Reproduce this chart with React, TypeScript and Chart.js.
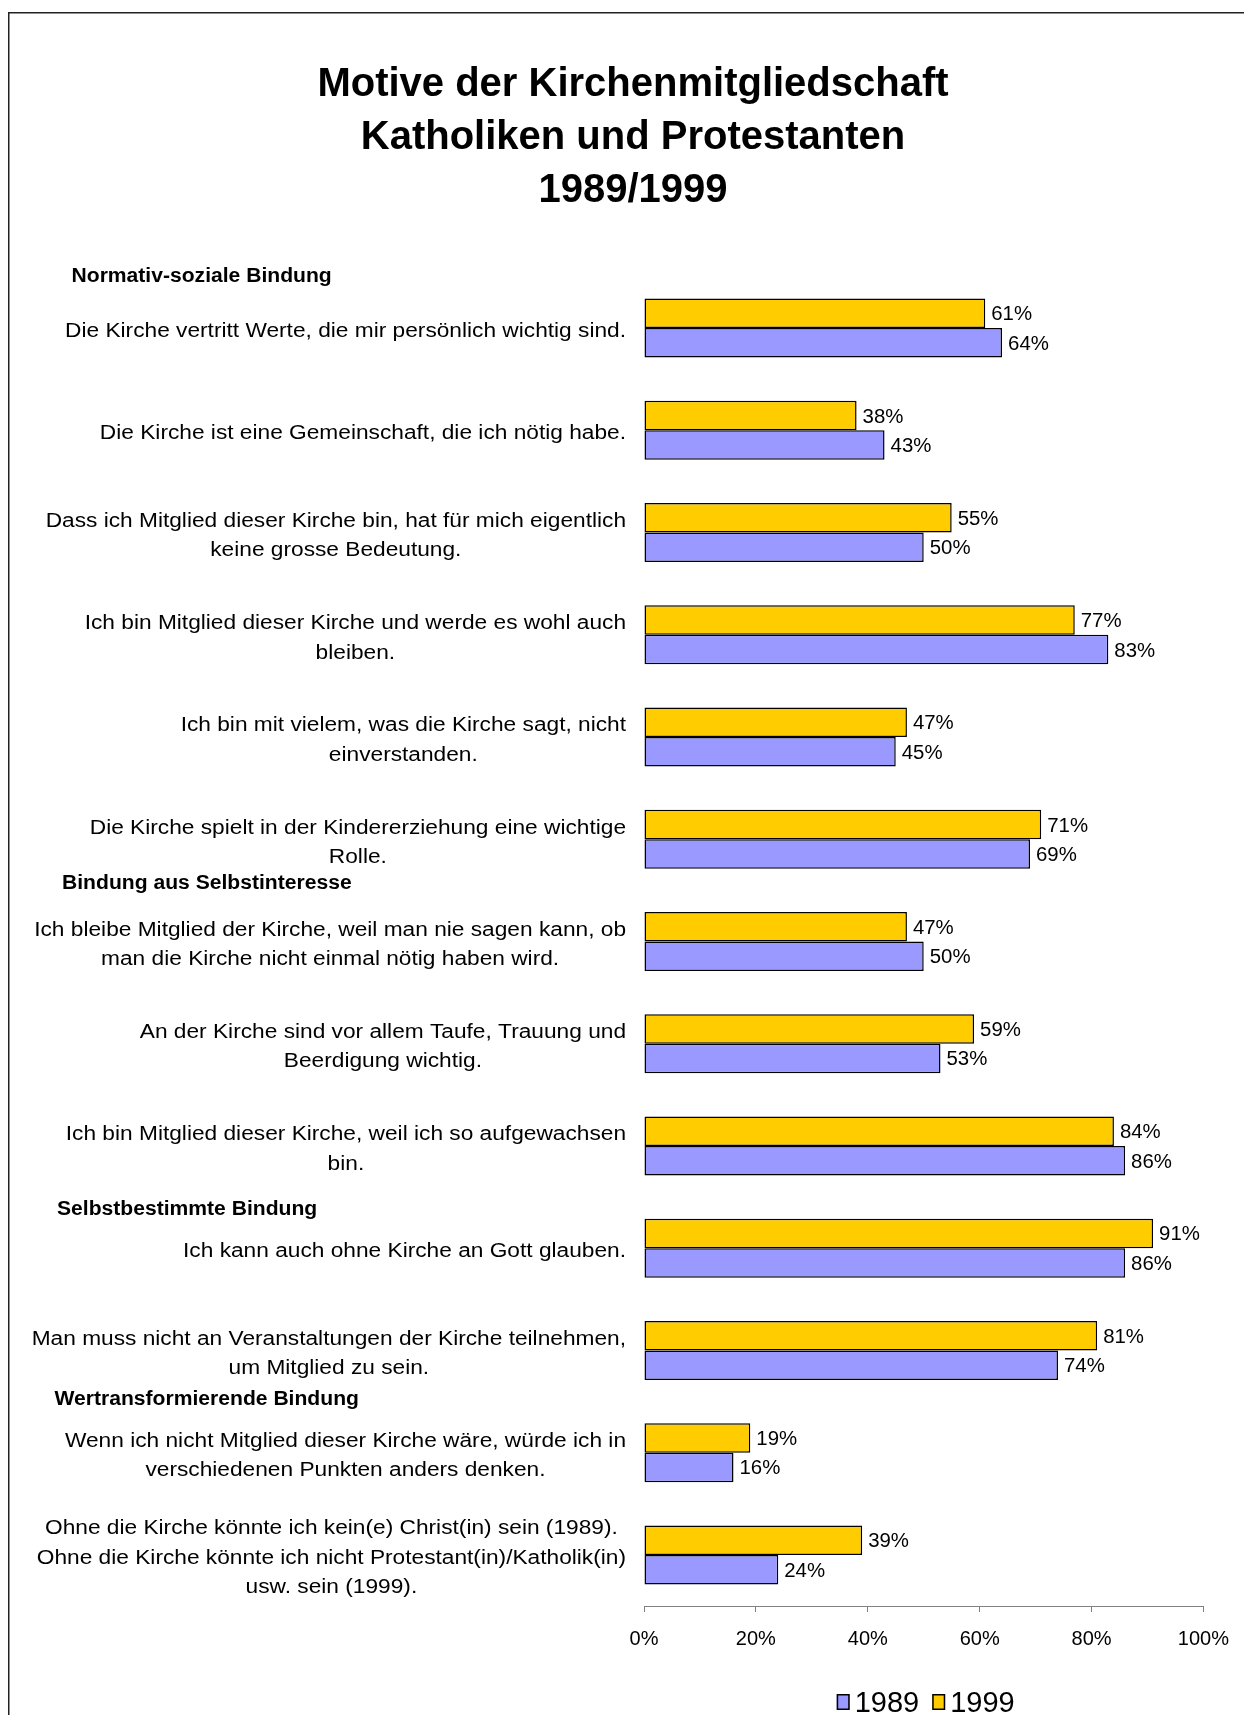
import React, { useEffect, useRef } from "react";
import { Chart, registerables } from "chart.js";

Chart.register(...registerables);

// ---------- data ----------
const titleLines = ["Motive der Kirchenmitgliedschaft", "Katholiken und Protestanten", "1989/1999"];

const categories: string[][] = [
  ["Die Kirche vertritt Werte, die mir persönlich wichtig sind."],
  ["Die Kirche ist eine Gemeinschaft, die ich nötig habe."],
  ["Dass ich Mitglied dieser Kirche bin, hat für mich eigentlich", "keine grosse Bedeutung."],
  ["Ich bin Mitglied dieser Kirche und werde es wohl auch", "bleiben."],
  ["Ich bin mit vielem, was die Kirche sagt, nicht", "einverstanden."],
  ["Die Kirche spielt in der Kindererziehung eine wichtige", "Rolle."],
  ["Ich bleibe Mitglied der Kirche, weil man nie sagen kann, ob", "man die Kirche nicht einmal nötig haben wird."],
  ["An der Kirche sind vor allem Taufe, Trauung und", "Beerdigung wichtig."],
  ["Ich bin Mitglied dieser Kirche, weil ich so aufgewachsen", "bin."],
  ["Ich kann auch ohne Kirche an Gott glauben."],
  ["Man muss nicht an Veranstaltungen der Kirche teilnehmen,", "um Mitglied zu sein."],
  ["Wenn ich nicht Mitglied dieser Kirche wäre, würde ich in", "verschiedenen Punkten anders denken."],
  [
    "Ohne die Kirche könnte ich kein(e) Christ(in) sein (1989).",
    "Ohne die Kirche könnte ich nicht Protestant(in)/Katholik(in)",
    "usw. sein (1999).",
  ],
];

const values1999 = [61, 38, 55, 77, 47, 71, 47, 59, 84, 91, 81, 19, 39];
const values1989 = [64, 43, 50, 83, 45, 69, 50, 53, 86, 86, 74, 16, 24];

const seriesNames = ["1989", "1999"];

const sectionHeaders = [
  "Normativ-soziale Bindung",
  "Bindung aus Selbstinteresse",
  "Selbstbestimmte Bindung",
  "Wertransformierende Bindung",
];
const sectionStarts = [0, 6, 9, 11];

const xTickValues = [0, 20, 40, 60, 80, 100];

// ---------- style / layout ----------
const W = 1236;
const H = 1707;
const FONT = '"Liberation Sans", Arial, Helvetica, sans-serif';
const COLOR_1989 = "#9999FF";
const COLOR_1999 = "#FFCC00";
const AREA_TOP = 269;
const AREA_BOTTOM = 1598;
const TITLE_PAD_TOP = 50.5;
const TITLE_LINE_H = 53;
const LABEL_RIGHT = 618;
const LABEL_LINE_H = 29.5;
const LABEL_SX = 1.135;
const HEADER_SX = 1.055;
const VALUE_SX = 1.02;
const HEADER_X = [63.5, 54, 49, 46.5];
const HEADER_DY = [-2, -8, 11, -3.5];

function stretchText(ctx: CanvasRenderingContext2D, text: string, x: number, y: number, sx: number) {
  ctx.save();
  ctx.translate(x, y);
  ctx.scale(sx, 1);
  ctx.fillText(text, 0, 0);
  ctx.restore();
}

const overlayPlugin = {
  id: "overlay",
  afterDraw(chart: any) {
    const ctx: CanvasRenderingContext2D = chart.ctx;
    const yScale = chart.scales.y;
    const area = chart.chartArea;
    ctx.save();

    // frame
    ctx.strokeStyle = "#222";
    ctx.lineWidth = 1.5;
    ctx.strokeRect(0.75, 4.75, W + 20, H + 20);

    // category labels (block right aligned, lines centred)
    ctx.fillStyle = "#000";
    ctx.font = `20px ${FONT}`;
    ctx.textAlign = "center";
    ctx.textBaseline = "alphabetic";
    categories.forEach((lines, i) => {
      const cy = yScale.getPixelForValue(i);
      const maxW = Math.max(...lines.map((l) => ctx.measureText(l).width)) * LABEL_SX;
      const cx = LABEL_RIGHT - maxW / 2;
      lines.forEach((line, j) => {
        const ly = cy + (j - (lines.length - 1) / 2) * LABEL_LINE_H + 9;
        stretchText(ctx, line, cx, ly, LABEL_SX);
      });
    });

    // section headers
    ctx.font = `bold 20px ${FONT}`;
    ctx.textAlign = "left";
    sectionHeaders.forEach((h, k) => {
      const y = yScale.getPixelForValue(sectionStarts[k] - 0.5) + HEADER_DY[k];
      stretchText(ctx, h, HEADER_X[k], y + 7, HEADER_SX);
    });

    // data labels
    ctx.font = `20px ${FONT}`;
    ctx.textAlign = "left";
    chart.data.datasets.forEach((ds: any, di: number) => {
      const meta = chart.getDatasetMeta(di);
      meta.data.forEach((el: any, i: number) => {
        stretchText(ctx, ds.data[i] + "%", el.x + 6, el.y + 7, VALUE_SX);
      });
    });

    // legend
    ctx.font = `29px ${FONT}`;
    const items = [
      { text: seriesNames[0], color: COLOR_1989 },
      { text: seriesNames[1], color: COLOR_1999 },
    ];
    const boxW = 13;
    const boxH = 16;
    const gap1 = 5;
    const gap2 = 13;
    const widths = items.map((it) => ctx.measureText(it.text).width);
    const total = items.length * (boxW + gap1) + widths.reduce((a, b) => a + b, 0) + gap2 * (items.length - 1);
    let x = (area.left + area.right) / 2 - total / 2 + 2;
    const baseline = 1704;
    const boxTop = 1686;
    items.forEach((it, k) => {
      ctx.fillStyle = it.color;
      ctx.fillRect(x, boxTop, boxW, boxH);
      ctx.strokeStyle = "#000";
      ctx.lineWidth = 1.5;
      ctx.strokeRect(x + 0.75, boxTop + 0.75, boxW - 1.5, boxH - 1.5);
      x += boxW + gap1;
      ctx.fillStyle = "#000";
      ctx.fillText(it.text, x, baseline);
      x += widths[k] + gap2;
    });

    ctx.restore();
  },
};

export default function App() {
  const canvasRef = useRef<HTMLCanvasElement | null>(null);

  useEffect(() => {
    const canvas = canvasRef.current;
    if (!canvas) return;
    Chart.defaults.font.family = FONT;

    const barStyle = {
      borderColor: "#000",
      borderWidth: 1.5,
      borderSkipped: false,
      categoryPercentage: 0.577,
      barPercentage: 1,
    };

    const chart = new Chart(canvas, {
      type: "bar",
      data: {
        labels: categories.map((l) => l.join(" ")),
        datasets: [
          { label: seriesNames[1], data: values1999, backgroundColor: COLOR_1999, ...barStyle },
          { label: seriesNames[0], data: values1989, backgroundColor: COLOR_1989, ...barStyle },
        ],
      },
      options: {
        indexAxis: "y",
        responsive: false,
        animation: false,
        events: [],
        layout: { padding: { left: 49, right: 35, top: 0, bottom: 0 } },
        plugins: {
          legend: { display: false },
          tooltip: { enabled: false },
          title: {
            display: true,
            text: titleLines,
            color: "#000",
            font: { size: 40, weight: "bold", lineHeight: TITLE_LINE_H / 40, family: FONT },
            padding: { top: TITLE_PAD_TOP, bottom: AREA_TOP - TITLE_PAD_TOP - 3 * TITLE_LINE_H },
          },
        },
        scales: {
          x: {
            min: 0,
            max: 100,
            afterBuildTicks: (s: any) => {
              s.ticks = xTickValues.map((v) => ({ value: v }));
            },
            ticks: {
              color: "#000",
              font: { size: 20, family: FONT },
              padding: 15,
              callback: (v: any) => v + "%",
            },
            grid: { display: true, drawOnChartArea: false, tickLength: 6, color: "#808080" },
            border: { display: true, color: "#808080" },
            afterFit: (s: any) => {
              s.height = H - AREA_BOTTOM;
            },
          },
          y: {
            ticks: { display: false },
            grid: { display: false },
            border: { display: false },
            afterFit: (s: any) => {
              s.width = 587;
            },
          },
        },
      },
      plugins: [overlayPlugin],
    } as any);

    return () => chart.destroy();
  }, []);

  return (
    <canvas
      ref={canvasRef}
      width={W}
      height={H}
      style={{ display: "block", position: "absolute", left: 8, top: 8, width: W, height: H }}
    />
  );
}
